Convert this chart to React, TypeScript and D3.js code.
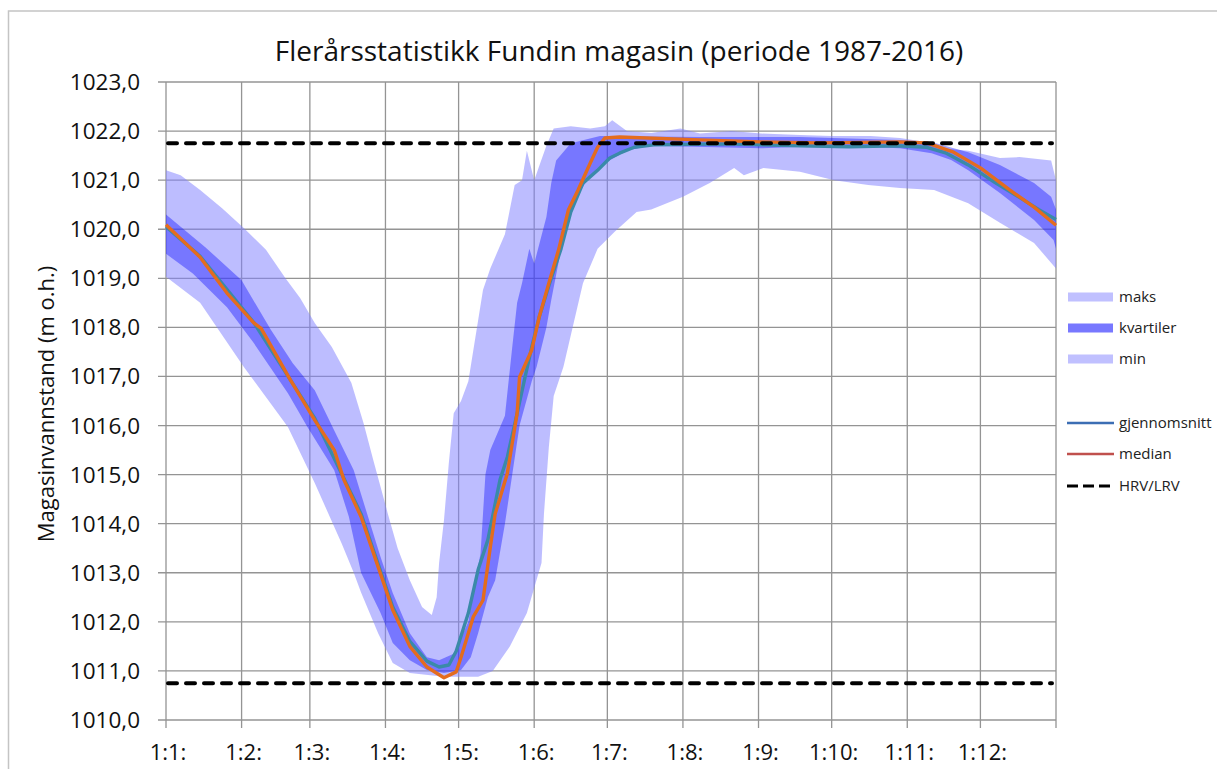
import { useEffect, useRef } from 'react';
import * as d3 from 'd3';

type Pt = [number, number]; // [dag i året, m o.h.]

const maks: Pt[] = [
  [0, 1021.2], [6, 1021.1], [14, 1020.8], [23, 1020.43], [32, 1020.02], [41, 1019.58], [49, 1019.0],
  [55, 1018.6], [61, 1018.09], [68, 1017.6], [76, 1016.87], [81, 1016.05], [85, 1015.3], [91, 1014.2],
  [95, 1013.5], [100, 1012.85], [105, 1012.3], [109, 1012.14], [111, 1012.5], [112, 1013.2], [114, 1014.07],
  [116, 1015.24], [118, 1016.25], [121, 1016.5], [124, 1016.9], [130, 1018.76], [133, 1019.2], [139, 1019.9],
  [143, 1020.9], [146, 1021.0], [148, 1021.6], [151, 1021.0], [156, 1021.7], [159, 1022.05], [166, 1022.1],
  [174, 1022.05], [180, 1022.1], [183, 1022.22], [189, 1022.0], [199, 1021.96], [211, 1022.05], [219, 1021.95],
  [232, 1022.0], [244, 1021.95], [260, 1021.92], [273, 1021.9], [289, 1021.9], [301, 1021.86], [309, 1021.8],
  [318, 1021.65], [329, 1021.6], [342, 1021.45], [350, 1021.47], [363, 1021.4], [365, 1021.0],
];

const minimum: Pt[] = [
  [0, 1019.03], [14, 1018.5], [32, 1017.19], [50, 1015.97], [61, 1014.83], [72, 1013.6], [77, 1013.0],
  [80, 1012.6], [87, 1011.77], [93, 1011.16], [100, 1010.96], [114, 1010.88], [128, 1010.88], [134, 1011.0],
  [141, 1011.5], [148, 1012.18], [154, 1013.2], [155, 1014.2], [157, 1015.56], [159, 1016.6], [163, 1017.2],
  [171, 1018.9], [177, 1019.6], [184, 1019.95], [193, 1020.35], [199, 1020.4], [212, 1020.66], [223, 1020.94],
  [233, 1021.25], [237, 1021.1], [245, 1021.25], [260, 1021.17], [274, 1021.0], [288, 1020.9], [301, 1020.84],
  [315, 1020.8], [329, 1020.53], [342, 1020.13], [356, 1019.72], [365, 1019.2],
];

const kvartilOvre: Pt[] = [
  [0, 1020.3], [16, 1019.64], [31, 1018.96], [43, 1017.95], [52, 1017.27], [61, 1016.72], [69, 1015.9],
  [77, 1015.09], [80, 1014.6], [88, 1013.32], [93, 1012.59], [100, 1011.77], [107, 1011.28], [112, 1011.22],
  [118, 1011.35], [124, 1012.0], [126, 1012.6], [129, 1013.4], [130, 1014.2], [131, 1015.0], [133, 1015.5],
  [139, 1016.2], [142, 1017.6], [144, 1018.5], [146, 1018.9], [149, 1019.6], [151, 1019.3], [156, 1020.25],
  [158, 1020.94], [160, 1021.4], [166, 1021.75], [178, 1021.9], [219, 1021.88], [260, 1021.88], [301, 1021.82],
  [315, 1021.76], [329, 1021.57], [342, 1021.31], [356, 1020.94], [363, 1020.66], [365, 1020.4],
];

const kvartilNedre: Pt[] = [
  [0, 1019.5], [11, 1019.1], [25, 1018.41], [36, 1017.68], [50, 1016.66], [58, 1015.97], [69, 1015.09],
  [75, 1014.14], [80, 1013.0], [88, 1012.18], [93, 1011.57], [100, 1011.22], [107, 1011.02], [114, 1010.96],
  [121, 1011.02], [125, 1011.28], [128, 1011.77], [132, 1012.5], [135, 1012.85], [139, 1014.0], [142, 1015.0],
  [145, 1016.0], [150, 1016.9], [152, 1017.2], [156, 1018.0], [158, 1018.56], [162, 1019.58], [165, 1020.2],
  [167, 1020.55], [174, 1021.1], [180, 1021.35], [189, 1021.6], [198, 1021.7], [244, 1021.65], [273, 1021.7],
  [301, 1021.65], [314, 1021.55], [322, 1021.41], [329, 1021.2], [342, 1020.74], [356, 1020.19], [364, 1019.78],
  [365, 1019.6],
];

const median: Pt[] = [
  [0, 1020.09], [14, 1019.43], [25, 1018.7], [36, 1018.09], [39, 1017.98], [51, 1016.93], [61, 1016.11],
  [69, 1015.5], [73, 1014.89], [80, 1014.14], [87, 1013.12], [93, 1012.24], [100, 1011.5], [107, 1011.08],
  [114, 1010.86], [119, 1010.98], [121, 1011.28], [126, 1012.1], [130, 1012.44], [133, 1013.52], [135, 1014.2],
  [140, 1015.03], [144, 1016.25], [145, 1016.99], [150, 1017.54], [153, 1018.2], [157, 1018.9], [161, 1019.58],
  [165, 1020.39], [169, 1020.8], [174, 1021.35], [177, 1021.67], [180, 1021.86], [186, 1021.88], [219, 1021.82],
  [244, 1021.78], [268, 1021.76], [301, 1021.78], [312, 1021.76], [323, 1021.57], [334, 1021.25], [346, 1020.8],
  [356, 1020.45], [365, 1020.08],
];

const gjennomsnitt: Pt[] = [
  [0, 1020.05], [14, 1019.45], [36, 1018.1], [61, 1016.15], [80, 1014.2], [93, 1012.3], [100, 1011.6],
  [107, 1011.2], [112, 1011.08], [116, 1011.12], [119, 1011.4], [124, 1012.18], [128, 1013.06], [132, 1013.67],
  [137, 1014.9], [140, 1015.36], [144, 1016.25], [147, 1016.93], [150, 1017.6], [153, 1018.2], [157, 1018.85],
  [162, 1019.6], [166, 1020.35], [171, 1020.94], [177, 1021.2], [182, 1021.45], [186, 1021.55], [192, 1021.67],
  [200, 1021.72], [230, 1021.74], [260, 1021.7], [280, 1021.68], [300, 1021.7], [312, 1021.67], [320, 1021.55],
  [329, 1021.31], [340, 1020.95], [350, 1020.65], [358, 1020.4], [365, 1020.2],
];

const HRV = 1021.75;
const LRV = 1010.75;

const monthStarts = [0, 31, 59, 90, 120, 151, 181, 212, 243, 273, 304, 334];
const monthLabels = ["1:1:", "1:2:", "1:3:", "1:4:", "1:5:", "1:6:", "1:7:", "1:8:", "1:9:", "1:10:", "1:11:", "1:12:"];
const yTicks = [1010, 1011, 1012, 1013, 1014, 1015, 1016, 1017, 1018, 1019, 1020, 1021, 1022, 1023];

const FONT = "'Open Sans', Lato, sans-serif";

export default function App() {
  const svgRef = useRef<SVGSVGElement>(null);

  useEffect(() => {
    if (!svgRef.current) return;
    const svg = d3.select(svgRef.current);
    svg.selectAll("*").remove();

    const x = d3.scaleLinear().domain([0, 365]).range([166, 1056]);
    const y = d3.scaleLinear().domain([1010, 1023]).range([720, 82]);
    const [x0, x1] = x.range();
    const [yb, yt] = y.range();

    // outer frame
    svg.append("rect")
      .attr("x", 8.5).attr("y", 11)
      .attr("width", 1230).attr("height", 800)
      .style("fill", "#fff").style("stroke", "#c4c4c4").style("stroke-width", 1.5);

    // grid
    const grid = svg.append("g").style("stroke", "#949494").style("stroke-width", 1.3);
    yTicks.forEach(t => {
      grid.append("line").attr("x1", x0 - 8).attr("x2", x1).attr("y1", y(t)).attr("y2", y(t));
    });
    [...monthStarts, 365].forEach(m => {
      grid.append("line").attr("x1", x(m)).attr("x2", x(m)).attr("y1", yt).attr("y2", yb + 8);
    });

    const line = d3.line<Pt>().x(d => x(d[0])).y(d => y(d[1]));
    const band = (top: Pt[], bottom: Pt[]) => line([...top, ...bottom.slice().reverse()]) + "Z";

    svg.append("path").attr("d", band(maks, minimum))
      .style("fill", "#8080ff").style("fill-opacity", 0.52).style("stroke", "none");
    svg.append("path").attr("d", band(kvartilOvre, kvartilNedre))
      .style("fill", "#0000ff").style("fill-opacity", 0.37).style("stroke", "none");

    svg.append("path").attr("d", line(gjennomsnitt))
      .style("fill", "none").style("stroke", "#3a8aa8").style("stroke-width", 3.4).style("stroke-linejoin", "round");
    svg.append("path").attr("d", line(median))
      .style("fill", "none").style("stroke", "#e46c1e").style("stroke-width", 3.4).style("stroke-linejoin", "round");

    [HRV, LRV].forEach(v => {
      svg.append("line")
        .attr("x1", x0 + 2).attr("x2", x1 - 4).attr("y1", y(v)).attr("y2", y(v))
        .style("stroke", "#000").style("stroke-width", 4)
        .style("stroke-dasharray", "9 9").style("stroke-linecap", "round");
    });

    // y tick labels
    const fmt = d3.format(".1f");
    svg.append("g").selectAll("text").data(yTicks).enter().append("text")
      .attr("x", 140).attr("y", d => y(d) + 8)
      .attr("text-anchor", "end")
      .text(d => fmt(d).replace(".", ","))
      .style("font-family", FONT).style("font-size", "22.5px").style("fill", "#111");

    // x tick labels
    svg.append("g").selectAll("text").data(monthStarts).enter().append("text")
      .attr("x", d => x(d) + 2).attr("y", 760)
      .attr("text-anchor", "middle")
      .text((_, i) => monthLabels[i])
      .style("font-family", FONT).style("font-size", "22px").style("fill", "#111");

    // title
    svg.append("text")
      .attr("x", 619).attr("y", 61).attr("text-anchor", "middle")
      .text("Flerårsstatistikk Fundin magasin (periode 1987-2016)")
      .style("font-family", FONT).style("font-size", "28px").style("fill", "#111");

    // y axis title
    svg.append("text")
      .attr("transform", "translate(54,404) rotate(-90)").attr("text-anchor", "middle")
      .text("Magasinvannstand (m o.h.)")
      .style("font-family", FONT).style("font-size", "22px").style("fill", "#111");

    // legend
    const lg = svg.append("g");
    const items = [
      { label: "maks", kind: "rect", color: "#c0c0ff", yc: 297 },
      { label: "kvartiler", kind: "rect", color: "#7878ff", yc: 328 },
      { label: "min", kind: "rect", color: "#c0c0ff", yc: 359 },
      { label: "gjennomsnitt", kind: "line", color: "#3c6eb4", yc: 423 },
      { label: "median", kind: "line", color: "#c0504d", yc: 454 },
      { label: "HRV/LRV", kind: "dash", color: "#000", yc: 486 },
    ];
    items.forEach(it => {
      if (it.kind === "rect") {
        lg.append("rect").attr("x", 1068).attr("y", it.yc - 4.5).attr("width", 45).attr("height", 9)
          .style("fill", it.color);
      } else {
        lg.append("line").attr("x1", 1067).attr("x2", 1114).attr("y1", it.yc).attr("y2", it.yc)
          .style("stroke", it.color).style("stroke-width", it.kind === "dash" ? 3 : 2.5)
          .style("stroke-dasharray", it.kind === "dash" ? "11 5" : null);
      }
      lg.append("text").attr("x", 1119).attr("y", it.yc + 5).text(it.label)
        .style("font-family", FONT).style("font-size", "15px").style("fill", "#222");
    });
  }, []);

  return (
    <svg ref={svgRef} width={1217} height={769}
      style={{ position: "absolute", left: 0, top: 0, background: "#fff" }} />
  );
}
